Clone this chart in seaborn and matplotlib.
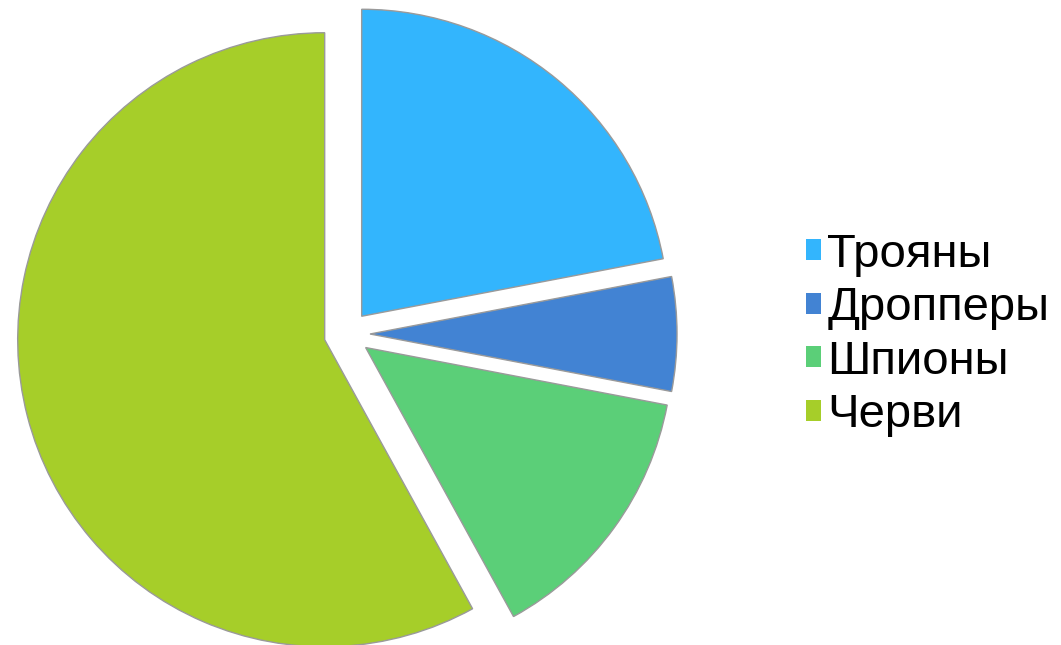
import matplotlib
matplotlib.use("Agg")
import matplotlib.pyplot as plt
import seaborn as sns

# malware share by type
labels = ["Трояны", "Дропперы", "Шпионы", "Черви"]
values = [22, 6, 14, 58]
colors = ["#33B5FD", "#4283D3", "#5BCF78", "#A6CE29"]

sns.set_theme(style="white")
plt.rcParams['font.family'] = ['Liberation Sans', 'DejaVu Sans']
plt.rcParams['text.color'] = 'black'

W, H = 1061, 645
R = 307.0          # pie radius in pixels
cx, cy = 347, 334  # pie centre (pixels from top-left)

fig = plt.figure(figsize=(W / 100, H / 100), dpi=100)
ax = fig.add_axes([0, 0, 1, 1])

palette = sns.color_palette(colors)
wedges, _ = ax.pie(values, colors=palette, startangle=90, counterclock=False,
                   explode=[0.075] * len(values), radius=1,
                   wedgeprops=dict(edgecolor="#9a9a9a", linewidth=1.0))

ax.set_xlim(-cx / R, (W - cx) / R)
ax.set_ylim(-(H - cy) / R, cy / R)
ax.set_aspect('equal', adjustable='box')
ax.axis('off')

leg = ax.legend(wedges, labels, loc='center left',
                bbox_to_anchor=(806 / W, 1 - 335 / H), bbox_transform=fig.transFigure,
                frameon=False, fontsize=34, handlelength=0.31, handleheight=0.31,
                handletextpad=0.14, labelspacing=0.2, borderpad=0, borderaxespad=0)
for h in leg.legend_handles:
    h.set_edgecolor("none")
for t in leg.get_texts():
    t.set_color("black")

fig.savefig("out.png", dpi=100, facecolor="white")
